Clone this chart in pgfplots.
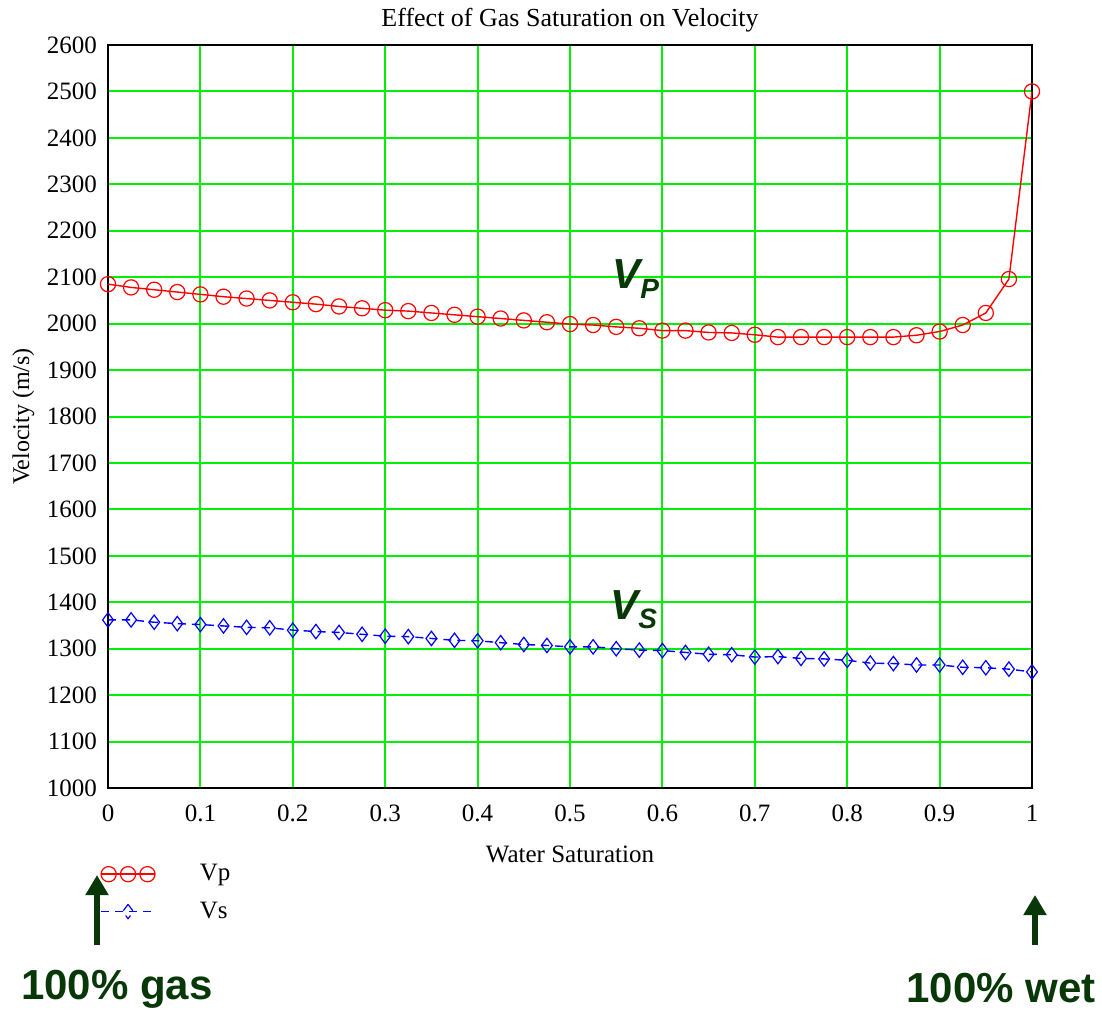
\documentclass[border=0pt]{standalone}
\usepackage{pgfplots}
\pgfplotsset{compat=1.18}
\usepackage{fontspec}
\setmainfont{Liberation Serif}
\newfontfamily\headfont{Liberation Sans}
\usetikzlibrary{arrows.meta}
\definecolor{gridgreen}{RGB}{0,240,0}
\definecolor{dkgreen}{RGB}{8,56,8}
\pgfplotstableread{
x vp vs
0.000 2085 1362
0.025 2078 1362
0.050 2073 1357
0.075 2068 1354
0.100 2063 1352
0.125 2058 1349
0.150 2054 1346
0.175 2050 1345
0.200 2046 1340
0.225 2042 1337
0.250 2037 1335
0.275 2033 1331
0.300 2029 1327
0.325 2027 1326
0.350 2023 1322
0.375 2019 1318
0.400 2015 1317
0.425 2011 1313
0.450 2007 1309
0.475 2003 1307
0.500 1999 1304
0.525 1997 1304
0.550 1993 1300
0.575 1990 1297
0.600 1985 1296
0.625 1985 1292
0.650 1981 1288
0.675 1980 1287
0.700 1976 1282
0.725 1971 1283
0.750 1971 1279
0.775 1971 1278
0.800 1971 1275
0.825 1971 1269
0.850 1971 1268
0.875 1975 1265
0.900 1983 1265
0.925 1997 1260
0.950 2023 1259
0.975 2096 1256
1.000 2500 1250
}\datatable
\begin{document}
\begin{tikzpicture}
\path[use as bounding box] (-54pt,-110.5pt) rectangle (497pt,394pt);
\begin{axis}[
  scale only axis,
  width=462pt, height=371.5pt,
  xmin=0, xmax=1, ymin=1000, ymax=2600,
  xtick={0,0.1,...,1.0},
  ytick={1000,1100,...,2600},
  xticklabels={0,0.1,0.2,0.3,0.4,0.5,0.6,0.7,0.8,0.9,1},
  yticklabel style={/pgf/number format/1000 sep={}, xshift=-2pt},
  xticklabel style={yshift=-5pt},
  /pgf/number format/assume math mode=true,
  tick label style={font=\fontsize{12.5}{14}\selectfont},
  major tick length=0pt,
  grid=major,
  major grid style={gridgreen, line width=1pt},
  axis line style={black, line width=1pt},
  title={Effect of Gas Saturation on Velocity},
  title style={font=\fontsize{13}{15}\selectfont, yshift=-3pt},
  xlabel={Water Saturation},
  ylabel={Velocity (m/s)},
  label style={font=\fontsize{12.5}{14}\selectfont},
  xlabel style={yshift=-5pt},
  ylabel style={font=\fontsize{12}{14}\selectfont, yshift=-0.5pt},
  clip=false,
  legend style={at={(-0.0087,-0.097)}, anchor=north west, draw=none, fill=none,
    font=\fontsize{12.5}{14}\selectfont, row sep=5pt, column sep=20pt, inner sep=0pt},
  legend cell align=left,
]
\addplot[red, line width=0.7pt, mark=o, mark size=3.8pt, mark options={solid, line width=0.6pt},
  legend image code/.code={
    \draw[red, line width=0.7pt] (0pt,0pt) -- (27pt,0pt);
    \draw[red, line width=0.6pt] (3.8pt,0pt) circle (3.8pt) (13.5pt,0pt) circle (3.8pt) (23.2pt,0pt) circle (3.8pt);
  }] table[x=x, y=vp] {\datatable};
\addlegendentry{Vp}
\addplot[blue, line width=0.7pt, dash pattern=on 4pt off 3pt, mark=diamond, mark size=3.6pt, mark options={solid, line width=0.6pt},
  legend image code/.code={
    \draw[blue, line width=0.7pt, dash pattern=on 4pt off 3pt] (0pt,0pt) -- (27pt,0pt);
    \draw[blue, line width=0.6pt] (13.5pt,3.6pt) -- (16.2pt,0pt) -- (13.5pt,-3.6pt) -- (10.8pt,0pt) -- cycle;
  }] table[x=x, y=vs] {\datatable};
\addlegendentry{Vs}
\node[dkgreen, font=\headfont\bfseries\itshape\fontsize{21}{24}\selectfont, inner sep=0pt] at (axis cs:0.571,2096) {V\raisebox{-0.45ex}{\fontsize{14}{16}\selectfont P}};
\node[dkgreen, font=\headfont\bfseries\itshape\fontsize{21}{24}\selectfont, inner sep=0pt] at (axis cs:0.569,1384) {V\raisebox{-0.45ex}{\fontsize{14}{16}\selectfont S}};
\end{axis}
\draw[dkgreen, line width=2.6pt, -{Triangle[width=11pt,length=10pt]}] (-5.5pt,-78.5pt) -- (-5.5pt,-43.5pt);
\draw[dkgreen, line width=2.6pt, -{Triangle[width=11pt,length=10pt]}] (463.5pt,-78.5pt) -- (463.5pt,-53.5pt);
\node[dkgreen, font=\headfont\bfseries\fontsize{21}{24}\selectfont, inner sep=0pt] at (4.5pt,-100.5pt) {100\% gas};
\node[dkgreen, font=\headfont\bfseries\fontsize{21}{24}\selectfont, inner sep=0pt] at (446.5pt,-100pt) {100\% wet};
\end{tikzpicture}
\end{document}
